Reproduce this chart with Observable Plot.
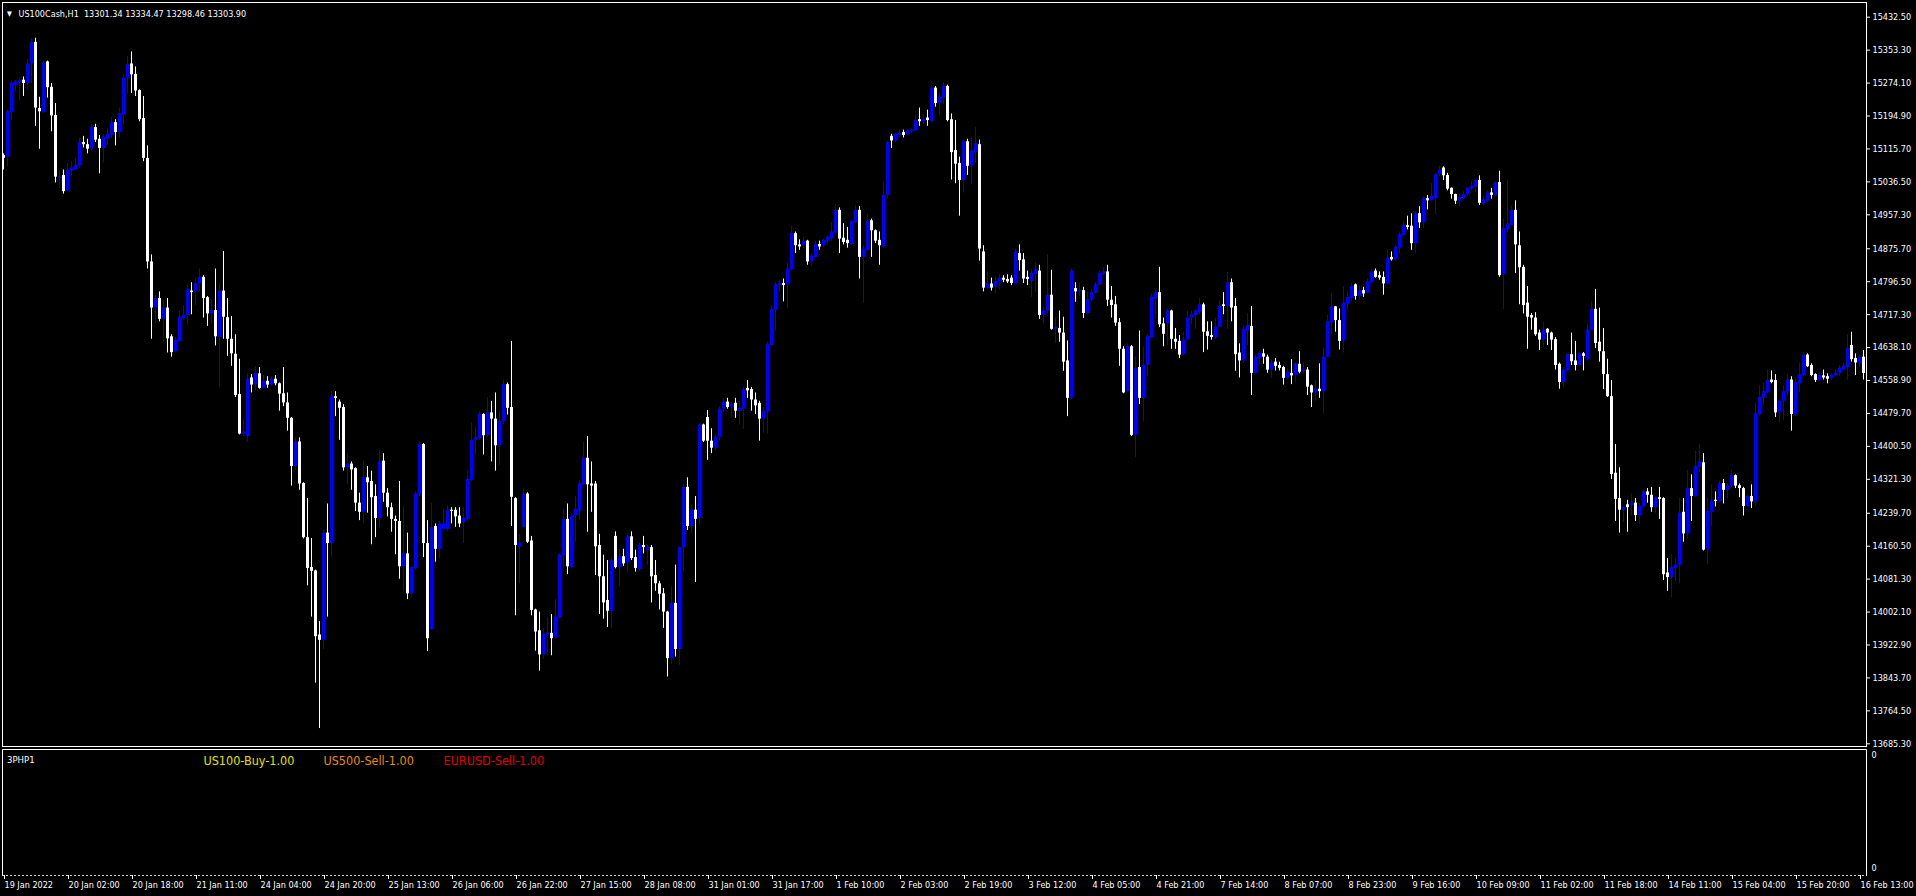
<!DOCTYPE html>
<html><head><meta charset="utf-8">
<script src="https://cdn.jsdelivr.net/npm/d3@7"></script>
<script src="https://cdn.jsdelivr.net/npm/@observablehq/plot@0.6"></script>
<style>
html,body{margin:0;padding:0;background:#000;overflow:hidden}
#chart{width:1916px;height:896px;background:#000}
#chart svg{display:block}
</style></head><body><div id="chart"></div>
<script>
const symbolTitle = "US100Cash,H1  13301.34 13334.47 13298.46 13303.90";
const indicatorName = "3PHP1";
const positionLabels = ["US100-Buy-1.00", "US500-Sell-1.00", "EURUSD-Sell-1.00"];
const positionColors = ["#e0e000", "#e68c00", "#e00000"];

const openPrices = [15100,15096,15203,15269,15275,15281,15273,15320,15372,15213,15203,15325,15264,15196,15045,15052,15014,15063,15065,15075,15131,15126,15115,15167,15139,15117,15139,15148,15179,15155,15197,15285,15320,15295,15256,15189,15093,14844,14733,14756,14706,14733,14664,14628,14653,14708,14715,14774,14772,14791,14807,14758,14719,14727,14662,14774,14710,14658,14622,14525,14430,14424,14565,14548,14575,14540,14557,14548,14562,14551,14527,14505,14468,14352,14411,14311,14181,14109,14101,13947,13934,14192,14167,14520,14507,14494,14349,14358,14347,14264,14242,14325,14316,14280,14227,14365,14288,14253,14225,14220,14111,14142,14046,14107,14284,14405,14167,13960,14208,14153,14201,14201,14247,14247,14233,14217,14225,14319,14415,14419,14477,14426,14481,14466,14402,14460,14549,14494,14275,14158,14206,14286,14173,14007,13957,13899,13947,13951,13940,13988,14137,14225,14109,14233,14245,14308,14372,14310,14310,14162,14087,14030,14004,14184,14109,14135,14120,14183,14133,14104,14162,14151,14157,14090,14070,14046,14002,13890,14023,13912,14157,14302,14208,14247,14227,14452,14470,14413,14396,14422,14490,14507,14494,14504,14485,14490,14540,14537,14512,14504,14466,14483,14643,14728,14787,14792,14789,14825,14912,14885,14883,14894,14844,14855,14886,14883,14894,14899,14914,14968,14901,14896,14886,14938,14968,14855,14872,14943,14919,14896,14880,15004,15146,15135,15148,15155,15150,15157,15159,15186,15181,15190,15181,15262,15225,15238,15266,15186,15112,15081,15040,15133,15074,15107,15126,14868,14780,14791,14783,14796,14805,14802,14805,14792,14864,14849,14807,14797,14814,14822,14715,14726,14764,14682,14684,14673,14606,14516,14780,14772,14775,14720,14752,14769,14789,14814,14820,14752,14741,14698,14634,14532,14640,14427,14590,14516,14595,14662,14754,14770,14695,14695,14726,14658,14653,14621,14656,14709,14715,14722,14741,14676,14667,14662,14687,14741,14737,14794,14737,14625,14606,14678,14689,14576,14612,14623,14615,14584,14603,14595,14590,14564,14576,14571,14598,14580,14584,14546,14529,14538,14532,14615,14698,14736,14703,14654,14742,14756,14789,14761,14775,14769,14794,14822,14811,14807,14791,14855,14849,14877,14908,14931,14930,14888,14960,14938,14996,14991,14996,15054,15070,15052,15021,15006,14990,14996,15006,15019,15024,15040,14984,14990,15010,15004,15035,14813,14921,14932,14968,14883,14831,14745,14715,14709,14673,14656,14682,14673,14657,14598,14554,14582,14621,14606,14595,14623,14609,14680,14730,14651,14628,14573,14520,14336,14275,14247,14260,14258,14264,14234,14255,14291,14283,14253,14277,14275,14096,14085,14107,14115,14242,14190,14299,14280,14350,14361,14151,14242,14271,14268,14311,14295,14305,14330,14306,14299,14256,14280,14267,14477,14516,14529,14560,14559,14481,14509,14531,14560,14476,14551,14571,14620,14595,14573,14559,14570,14568,14564,14570,14576,14584,14590,14643,14612,14599,14615];

const highPrices = [15104,15209,15278,15280,15286,15289,15330,15380,15382,15240,15327,15327,15273,15225,15062,15065,15081,15086,15093,15142,15146,15139,15175,15175,15148,15151,15164,15192,15186,15214,15294,15338,15349,15313,15258,15242,15123,14861,14763,14772,14750,14756,14669,14662,14726,14739,14789,14794,14805,14827,14811,14761,14753,14827,14794,14869,14756,14713,14669,14610,14465,14575,14573,14592,14590,14571,14568,14568,14571,14553,14590,14529,14470,14421,14421,14313,14275,14179,14103,13979,14198,14262,14534,14532,14512,14501,14380,14363,14349,14288,14365,14352,14341,14308,14391,14383,14299,14264,14233,14316,14255,14192,14111,14291,14413,14407,14222,14264,14214,14220,14249,14258,14253,14253,14253,14253,14341,14457,14446,14483,14479,14518,14509,14529,14485,14560,14553,14653,14277,14189,14297,14289,14184,14009,14002,13962,13988,13996,14032,14142,14249,14262,14236,14280,14317,14410,14424,14363,14316,14189,14139,14126,14131,14195,14153,14153,14192,14195,14151,14168,14184,14164,14162,14126,14076,14059,14004,14063,14115,14159,14310,14325,14258,14280,14454,14454,14487,14443,14426,14496,14516,14516,14507,14516,14509,14542,14559,14542,14529,14509,14494,14651,14739,14794,14800,14803,14841,14929,14916,14897,14903,14896,14864,14894,14894,14899,14907,14938,14982,14974,14936,14927,14943,14979,14977,14883,14958,14947,14921,14916,15035,15135,15151,15153,15161,15161,15162,15164,15197,15214,15197,15209,15269,15266,15249,15275,15269,15200,15184,15096,15137,15139,15142,15167,15137,14883,14820,14805,14807,14813,14811,14813,14811,14874,14885,14864,14822,14827,14842,14836,14733,14861,14824,14709,14726,14711,14654,14827,14794,14792,14783,14772,14778,14794,14822,14830,14836,14785,14761,14708,14640,14647,14643,14615,14678,14640,14669,14767,14778,14831,14709,14731,14728,14684,14667,14675,14726,14726,14730,14756,14745,14700,14700,14709,14750,14770,14819,14803,14756,14647,14689,14719,14737,14620,14628,14634,14620,14609,14612,14603,14593,14586,14609,14601,14628,14601,14590,14548,14559,14599,14637,14715,14767,14737,14731,14785,14772,14792,14791,14787,14783,14803,14827,14827,14820,14820,14874,14868,14885,14916,14940,14954,14960,14965,14977,15001,15004,15032,15057,15074,15073,15057,15022,15007,15006,15013,15024,15037,15043,15051,15002,15015,15021,15037,15062,14946,15041,14979,14991,14916,14836,14785,14720,14722,14680,14698,14684,14675,14662,14601,14590,14623,14673,14653,14626,14626,14695,14748,14778,14733,14684,14610,14559,14405,14349,14255,14271,14286,14275,14264,14295,14299,14302,14280,14302,14277,14131,14140,14131,14275,14275,14343,14332,14388,14405,14383,14275,14308,14291,14316,14321,14310,14343,14332,14310,14302,14283,14308,14505,14546,14553,14584,14582,14573,14512,14546,14573,14568,14564,14601,14626,14623,14599,14575,14575,14584,14575,14575,14584,14595,14601,14669,14675,14623,14620,14631];

const lowPrices = [15065,15073,15183,15253,15231,15242,15258,15273,15170,15115,15201,15238,15157,15034,15021,15007,15013,15048,15064,15070,15118,15104,15109,15131,15056,15081,15123,15142,15123,15142,15173,15249,15249,15242,15181,15085,14827,14658,14695,14700,14651,14625,14615,14626,14651,14704,14693,14717,14739,14772,14709,14689,14695,14642,14543,14658,14617,14593,14518,14428,14424,14410,14529,14534,14538,14538,14540,14546,14546,14485,14496,14437,14305,14343,14295,14178,14065,13990,13831,13722,13912,13990,14133,14472,14415,14341,14308,14295,14244,14222,14214,14240,14164,14181,14205,14266,14231,14194,14140,14081,14052,14032,14037,14104,14280,14133,13907,13958,14122,14131,14198,14195,14214,14206,14205,14167,14220,14316,14380,14415,14380,14422,14363,14341,14355,14452,14476,14208,13993,14070,14203,14167,13993,13908,13860,13888,13897,13897,13938,13986,14109,14092,14107,14170,14225,14306,14194,14242,14090,13996,13985,13965,13963,14106,14063,14112,14098,14126,14098,14100,14142,14115,14024,14052,14007,13963,13846,13877,13894,13874,14100,14198,14189,14073,14211,14410,14367,14383,14391,14415,14483,14490,14468,14468,14452,14441,14516,14485,14477,14413,14432,14430,14640,14678,14772,14748,14731,14822,14864,14872,14875,14836,14833,14853,14872,14877,14888,14894,14910,14864,14885,14877,14883,14936,14803,14745,14869,14855,14888,14836,14877,14995,15117,15131,15142,15142,15146,15153,15157,15170,15175,15170,15179,15216,15197,15223,15181,15041,15032,14954,15010,15052,15030,15081,14846,14772,14778,14774,14767,14778,14794,14792,14787,14789,14822,14792,14787,14759,14770,14706,14695,14719,14680,14648,14651,14581,14472,14514,14747,14761,14708,14717,14747,14767,14787,14811,14737,14709,14689,14593,14527,14530,14424,14374,14501,14459,14568,14660,14706,14686,14640,14643,14634,14634,14612,14620,14654,14693,14682,14717,14626,14632,14656,14656,14686,14717,14682,14700,14581,14565,14599,14643,14523,14575,14598,14598,14576,14565,14582,14582,14548,14560,14549,14553,14575,14573,14523,14494,14509,14516,14479,14613,14669,14675,14632,14625,14728,14750,14752,14753,14759,14767,14792,14805,14800,14764,14789,14846,14846,14864,14905,14921,14872,14863,14924,14924,14969,14990,14958,15048,15040,15015,14995,14982,14977,14993,15002,15015,15010,14980,14977,14988,14995,14999,14807,14730,14916,14930,14816,14741,14719,14634,14680,14665,14631,14637,14643,14631,14584,14538,14543,14579,14595,14582,14593,14582,14606,14678,14636,14603,14537,14518,14321,14220,14192,14217,14194,14233,14220,14212,14251,14264,14242,14240,14225,14078,14052,14037,14074,14070,14170,14178,14220,14278,14336,14149,14115,14208,14255,14264,14262,14275,14302,14299,14277,14233,14253,14251,14256,14474,14499,14527,14551,14470,14457,14463,14523,14437,14472,14529,14568,14590,14568,14554,14557,14560,14551,14559,14568,14570,14582,14560,14603,14571,14590,14560];

const closePrices = [15093,15205,15274,15277,15280,15273,15320,15372,15214,15205,15322,15263,15195,15048,15048,15013,15064,15070,15076,15131,15126,15115,15167,15137,15117,15144,15151,15179,15155,15200,15286,15319,15294,15255,15186,15093,14844,14733,14756,14706,14733,14659,14626,14656,14711,14715,14778,14770,14792,14807,14756,14719,14727,14664,14774,14711,14658,14623,14523,14430,14435,14562,14548,14576,14540,14557,14548,14562,14551,14526,14505,14468,14352,14411,14310,14181,14107,14100,13943,13934,14192,14167,14520,14516,14492,14349,14358,14344,14264,14242,14325,14313,14277,14227,14363,14288,14253,14225,14220,14111,14142,14046,14109,14286,14405,14167,13938,14205,14153,14214,14214,14247,14244,14231,14214,14227,14321,14415,14421,14477,14426,14481,14466,14402,14460,14549,14492,14278,14162,14168,14284,14170,14006,13954,13899,13949,13952,13938,13990,14139,14225,14111,14233,14249,14311,14372,14308,14305,14159,14087,14024,14004,14126,14109,14135,14118,14183,14131,14107,14162,14157,14157,14087,14070,14045,14002,13890,14023,13912,14157,14302,14208,14247,14225,14452,14413,14413,14396,14422,14490,14507,14494,14501,14485,14492,14537,14534,14512,14498,14466,14485,14645,14730,14789,14792,14787,14827,14912,14883,14880,14894,14844,14858,14886,14880,14896,14903,14916,14968,14899,14891,14888,14941,14968,14855,14875,14941,14919,14894,14883,15004,15131,15135,15151,15153,15148,15159,15161,15184,15181,15186,15184,15262,15225,15240,15266,15184,15107,15079,15040,15133,15074,15111,15129,14875,14781,14791,14781,14797,14805,14800,14796,14792,14868,14847,14803,14802,14816,14825,14715,14726,14764,14682,14686,14673,14603,14516,14822,14772,14775,14720,14753,14770,14789,14816,14820,14752,14739,14697,14634,14529,14640,14427,14588,14516,14595,14665,14759,14770,14693,14670,14726,14658,14651,14620,14656,14709,14717,14726,14741,14675,14665,14662,14687,14737,14737,14794,14733,14621,14606,14682,14691,14576,14615,14625,14615,14584,14601,14593,14588,14564,14579,14570,14598,14579,14584,14543,14529,14538,14532,14615,14700,14736,14703,14653,14745,14759,14785,14761,14775,14767,14796,14820,14807,14805,14791,14853,14849,14879,14910,14932,14927,14888,14960,14938,14996,14991,15002,15054,15065,15051,15019,15006,14990,14999,15006,15021,15026,15040,14985,14993,15010,15004,15034,14811,14924,14935,14968,14885,14830,14739,14711,14709,14669,14656,14680,14673,14656,14595,14554,14584,14621,14604,14595,14623,14617,14680,14730,14648,14628,14573,14520,14333,14273,14247,14253,14253,14264,14234,14256,14291,14283,14253,14277,14273,14092,14085,14109,14115,14240,14190,14299,14280,14352,14363,14151,14244,14269,14268,14311,14295,14305,14330,14305,14299,14256,14280,14267,14479,14518,14532,14559,14554,14481,14509,14532,14560,14477,14553,14573,14620,14592,14571,14559,14571,14565,14562,14571,14576,14588,14593,14636,14609,14601,14615,14576];

const priceTicks = [15432.5,15353.3,15274.1,15194.9,15115.7,15036.5,14957.3,14875.7,14796.5,14717.3,14638.1,14558.9,14479.7,14400.5,14321.3,14239.7,14160.5,14081.3,14002.1,13922.9,13843.7,13764.5,13685.3];

const timeLabels = ["19 Jan 2022","20 Jan 02:00","20 Jan 18:00","21 Jan 11:00","24 Jan 04:00","24 Jan 20:00","25 Jan 13:00","26 Jan 06:00","26 Jan 22:00","27 Jan 15:00","28 Jan 08:00","31 Jan 01:00","31 Jan 17:00","1 Feb 10:00","2 Feb 03:00","2 Feb 19:00","3 Feb 12:00","4 Feb 05:00","4 Feb 21:00","7 Feb 14:00","8 Feb 07:00","8 Feb 23:00","9 Feb 16:00","10 Feb 09:00","11 Feb 02:00","11 Feb 18:00","14 Feb 11:00","15 Feb 04:00","15 Feb 20:00","16 Feb 13:00"];
const barsPerLabel = 16;

const candles = openPrices.map((o, i) => ({
  i, open: o, high: highPrices[i], low: lowPrices[i], close: closePrices[i],
  dir: closePrices[i] >= o ? "up" : "down"
}));
const labelIdx = timeLabels.map((_, k) => k * barsPerLabel);

const FONT = "'DejaVu Sans Condensed','Liberation Sans',Arial,sans-serif";
const xOpts = {type: "linear", domain: [0, candles.length - 1], range: [3, 1863]};
const colorOpts = {domain: ["up", "down"], range: ["#0000ff", "#ffffff"]};

const main = Plot.plot({
  width: 1916, height: 748,
  marginLeft: 2, marginTop: 2, marginRight: 50, marginBottom: 2,
  style: {background: "#000", color: "#fff", fontFamily: FONT, fontSize: "9px"},
  x: {...xOpts, axis: null},
  y: {domain: [13685.3, 15432.5], range: [743.3, 16.7]},
  color: colorOpts,
  marks: [
    Plot.ruleX(candles, {x: "i", y1: "low", y2: "high", stroke: "dir", strokeWidth: 1}),
    Plot.ruleX(candles, {x: "i", y1: "open", y2: "close", stroke: "dir", strokeWidth: 3}),
    Plot.frame({stroke: "#fff"}),
    Plot.axisY({anchor: "right", ticks: priceTicks, tickFormat: d => d.toFixed(2),
      tickSize: 3, tickPadding: 3, label: null, stroke: "#fff", fill: "#fff", fontSize: 9}),
    Plot.text(["\u25BC"], {frameAnchor: "top-left", dx: 7, dy: 8.5, fill: "#fff", fontSize: 7, textAnchor: "middle"}),
    Plot.text([symbolTitle], {frameAnchor: "top-left", dx: 16, dy: 8.5, fill: "#fff", fontSize: 9, textAnchor: "start"})
  ]
});

const sub = Plot.plot({
  width: 1916, height: 148,
  marginLeft: 2, marginTop: 1, marginRight: 50, marginBottom: 21,
  style: {background: "#000", color: "#fff", fontFamily: FONT, fontSize: "9px"},
  x: {...xOpts},
  y: {domain: [0, 1], range: [120, 7]},
  marks: [
    Plot.axisX({anchor: "bottom", ticks: labelIdx, tickFormat: i => timeLabels[Math.round(i / barsPerLabel)],
      tickSize: 4, tickPadding: 2, textAnchor: "start", dx: 1, label: null, stroke: "#fff", fill: "#fff", fontSize: 9}),
    Plot.axisY({anchor: "right", ticks: [0, 1], tickFormat: () => "0", tickSize: 0, tickPadding: 5,
      label: null, fill: "#fff", fontSize: 9}),
    Plot.text([indicatorName], {frameAnchor: "top-left", dx: 4.5, dy: 7, fill: "#fff", fontSize: 9.5, textAnchor: "start"}),
    Plot.text([positionLabels[0]], {frameAnchor: "top-left", dx: 201, dy: 6.5, fill: positionColors[0], fontSize: 12.5, textAnchor: "start"}),
    Plot.text([positionLabels[1]], {frameAnchor: "top-left", dx: 321, dy: 6.5, fill: positionColors[1], fontSize: 12.5, textAnchor: "start"}),
    Plot.text([positionLabels[2]], {frameAnchor: "top-left", dx: 441, dy: 6.5, fill: positionColors[2], fontSize: 12.5, textAnchor: "start"})
  ]
});

// panel border: solid left/top/right, dashed bottom
const s = d3.select(sub);
s.append("path").attr("d", "M2.5,127 V1.5 H1866.5 V127").attr("fill", "none").attr("stroke", "#fff");
s.append("line").attr("x1", 2).attr("x2", 1867).attr("y1", 127.5).attr("y2", 127.5)
  .attr("stroke", "#d8d8d8").attr("stroke-dasharray", "2,2");

const root = document.getElementById("chart");
root.append(main);
root.append(sub);
</script></body></html>
